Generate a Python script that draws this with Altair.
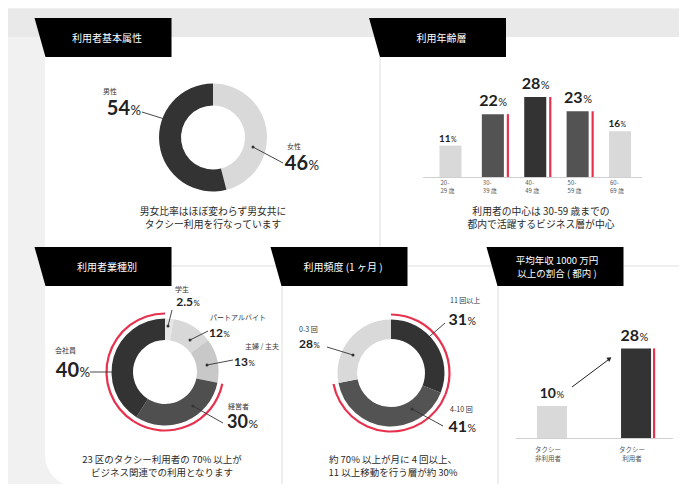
import altair as alt
import pandas as pd

# ---------------- data ----------------
gender_cats = ["女性", "男性"]
gender_vals = [46, 54]

age_cats = ["20-29", "30-39", "40-49", "50-59", "60-69"]
age_ticks = ["20-\n29 歳", "30-\n39 歳", "40-\n49 歳", "50-\n59 歳", "60-\n69 歳"]
age_vals = [11, 22, 28, 23, 16]
age_core = [False, True, True, True, False]

job_cats = ["学生", "パートアルバイト", "主婦 / 主夫", "経営者", "会社員"]
job_vals = [2.5, 12, 13, 30, 40]
job_business = [False, False, False, True, True]

freq_cats = ["11 回以上", "4-10 回", "0-3 回"]
freq_vals = [31, 41, 28]
freq_frequent = [True, True, False]

income_cats = ["タクシー非利用者", "タクシー利用者"]
income_ticks = ["タクシー\n非利用者", "タクシー\n利用者"]
income_vals = [10, 28]
income_user = [False, True]

tab_titles = ["利用者基本属性", "利用年齢層", "利用者業種別", "利用頻度 (1 ヶ月 )",
              "平均年収 1000 万円\n以上の割合 ( 都内 )"]
captions = [
    "男女比率はほぼ変わらず男女共に\nタクシー利用を行なっています",
    "利用者の中心は 30-59 歳までの\n都内で活躍するビジネス層が中心",
    "23 区のタクシー利用者の 70% 以上が\nビジネス関連での利用となります",
    "約 70% 以上が月に 4 回以上、\n11 以上移動を行う層が約 30%",
]

# ---------------- styles ----------------
DARK, MID, LIGHT, RED = "#333333", "#535353", "#d9d9d9", "#e6324f"
TXT = "#222222"
JP = "Noto Sans CJK JP"
NUM = "Lato"
gender_colors = [LIGHT, DARK]
age_colors = [LIGHT, MID, DARK, MID, LIGHT]
job_colors = ["#e6e6e6", "#d8d8d8", "#c8c8c8", "#4f4f4f", "#333333"]
freq_colors = [DARK, MID, LIGHT]
income_colors = [LIGHT, DARK]

W, H = 671, 476


def X(v):
    return v - 8


def Y(v):
    return v - 8


def fmt(v):
    return f"{v:g}"


one = pd.DataFrame({"k": [0]})

# ---------------- layout (page pixel positions) ----------------
tab_boxes = [(103, 37.5), (437.5, 37.5), (103, 266.5), (339, 266.5), (555, 266.5)]
caption_pos = [(213, 214.5), (541, 214.5), (162, 462.5), (393, 462.5)]

G_LAYOUT = {
    "男性": dict(lab=(103, 92), split=130, base=115, fs=20, line=(142, 112, 174, 122)),
    "女性": dict(lab=(287, 147), split=308, base=170, fs=20, line=(283, 163, 253, 147)),
}
J_LAYOUT = {
    "学生": dict(lab=(175, 290), split=193, base=306, fs=12, line=(172, 310, 168, 326)),
    "パートアルバイト": dict(lab=(210, 318), split=223, base=337, fs=12, line=(208, 331, 190, 340)),
    "主婦 / 主夫": dict(lab=(245, 347), split=248, base=366, fs=12, line=(233, 360, 207, 365)),
    "経営者": dict(lab=(228, 407), split=248, base=428, fs=18, line=(223, 423, 193, 406)),
    "会社員": dict(lab=(55, 351), split=79, base=377, fs=20, line=(90, 372, 124, 372)),
}
F_LAYOUT = {
    "11 回以上": dict(lab=(450, 301), split=467, base=325, fs=16, line=(445, 323, 422, 343)),
    "4-10 回": dict(lab=(450, 410), split=467, base=432, fs=16, line=(443, 426, 412, 409)),
    "0-3 回": dict(lab=(299, 330), split=313, base=348, fs=12, line=(327, 347, 353, 355)),
}

# ---------------- background ----------------
bg_layers = []
bg_layers.append(alt.Chart(one).mark_rect(color="#e9e9e9").encode(
    x=alt.value(X(8)), x2=alt.value(X(687)), y=alt.value(Y(9)), y2=alt.value(Y(37))))
bg_layers.append(alt.Chart(one).mark_rect(color="#ffffff", cornerRadiusBottomLeft=32).encode(
    x=alt.value(X(45)), x2=alt.value(X(687)), y=alt.value(Y(37)), y2=alt.value(Y(487))))
sep = pd.DataFrame({
    "x": [X(45), X(380), X(282), X(498)],
    "x2": [X(687), X(380), X(282), X(498)],
    "y": [Y(266), Y(57), Y(286), Y(286)],
    "y2": [Y(266), Y(266), Y(487), Y(487)],
})
bg_layers.append(alt.Chart(sep).mark_rule(color="#dedede", strokeWidth=1).encode(
    x=alt.X("x:Q", scale=None), x2="x2:Q", y=alt.Y("y:Q", scale=None), y2="y2:Q"))

# ---------------- tabs ----------------
tab_df = pd.DataFrame({
    "title": tab_titles,
    "x": [X(b[0]) for b in tab_boxes],
    "y": [Y(b[1]) for b in tab_boxes],
})
tab_shape = "M -68.5 -19.5 L 68.5 -19.5 L 68.5 19.5 L -57.5 19.5 Z"
tabs = alt.Chart(tab_df).mark_point(shape=tab_shape, size=4, filled=True, color="#000000",
                                    opacity=1, strokeWidth=0).encode(
    x=alt.X("x:Q", scale=None), y=alt.Y("y:Q", scale=None))
tab_single = alt.Chart(tab_df).transform_filter("indexof(datum.title, '\\n') < 0").mark_text(
    font=JP, fontSize=10, color="#ffffff", baseline="middle", dx=4, dy=1.5).encode(
    x=alt.X("x:Q", scale=None), y=alt.Y("y:Q", scale=None), text="title:N")
tab_double = alt.Chart(tab_df).transform_filter("indexof(datum.title, '\\n') >= 0").mark_text(
    font=JP, fontSize=9.5, color="#ffffff", baseline="alphabetic", lineBreak="\n", lineHeight=12.5,
    dx=2, dy=-2.5).encode(
    x=alt.X("x:Q", scale=None), y=alt.Y("y:Q", scale=None), text="title:N")

# ---------------- captions ----------------
cap_rows = []
for t, (cx, by) in zip(captions, caption_pos):
    cap_rows.append({"text": t, "x": X(cx), "y": Y(by)})
cap_df = pd.DataFrame(cap_rows)
cap_top = alt.Chart(cap_df.iloc[:2]).mark_text(
    font=JP, fontSize=9.8, color="#2a2a2a", align="center", baseline="alphabetic",
    lineBreak="\n", lineHeight=13.5).encode(
    x=alt.X("x:Q", scale=None), y=alt.Y("y:Q", scale=None), text="text:N")
cap_bot = alt.Chart(cap_df.iloc[2:]).mark_text(
    font=JP, fontSize=9.5, color="#2a2a2a", align="center", baseline="alphabetic",
    lineBreak="\n", lineHeight=13).encode(
    x=alt.X("x:Q", scale=None), y=alt.Y("y:Q", scale=None), text="text:N")


# ---------------- donuts ----------------
def donut(cats, vals, flags, colors, cx, cy, r_in, r_out, red=None):
    df = pd.DataFrame({"cat": cats, "val": vals, "idx": list(range(len(cats))), "flag": flags})
    base = alt.Chart(df).encode(
        theta=alt.Theta("val:Q", stack=True),
        order=alt.Order("idx:Q", sort="ascending"),
        x=alt.value(X(cx)), y=alt.value(Y(cy)))
    layers = []
    if red:
        layers.append(base.mark_arc(radius=red + 1.1, radius2=red - 1.1).encode(
            detail="cat:N",
            fill=alt.condition("datum.flag", alt.value(RED), alt.value("transparent"))))
    layers.append(base.mark_arc(radius=r_out, radius2=r_in).encode(
        color=alt.Color("cat:N", scale=alt.Scale(domain=cats, range=colors), legend=None)))
    return alt.layer(*layers)


d1 = donut(gender_cats, gender_vals, [False, False], gender_colors, 213, 137.5, 32, 54)
d3 = donut(job_cats, job_vals, job_business, job_colors, 165, 372, 32, 53.5, red=58.5)
d4 = donut(freq_cats, freq_vals, freq_frequent, freq_colors, 391, 373, 34, 53.5, red=58.5)

# ---------------- donut annotations ----------------
cat_rows, num_rows, line_rows = [], [], []
for cats, vals, lay in [(gender_cats, gender_vals, G_LAYOUT), (job_cats, job_vals, J_LAYOUT),
                        (freq_cats, freq_vals, F_LAYOUT)]:
    for c, v in zip(cats, vals):
        L = lay[c]
        cat_rows.append({"text": c, "x": X(L["lab"][0]), "y": Y(L["lab"][1])})
        num_rows.append({"text": fmt(v), "x": X(L["split"]), "y": Y(L["base"]),
                         "fs": L["fs"], "pfs": round(L["fs"] * 0.66, 1)})
        x1, y1, x2, y2 = L["line"]
        line_rows.append({"x": X(x1), "y": Y(y1), "x2": X(x2), "y2": Y(y2)})
cat_df = pd.DataFrame(cat_rows)
num_df = pd.DataFrame(num_rows)
line_df = pd.DataFrame(line_rows)

ann_cat = alt.Chart(cat_df).mark_text(font=JP, fontSize=7, color="#333333", align="left",
                                      baseline="middle").encode(
    x=alt.X("x:Q", scale=None), y=alt.Y("y:Q", scale=None), text="text:N")
ann_num = alt.Chart(num_df).mark_text(font=NUM, fontWeight="bold", color=TXT, align="right",
                                      baseline="alphabetic").encode(
    x=alt.X("x:Q", scale=None), y=alt.Y("y:Q", scale=None), text="text:N",
    size=alt.Size("fs:Q", scale=None))
ann_pct = alt.Chart(num_df).mark_text(font=NUM, color=TXT, align="left", baseline="alphabetic",
                                      dx=0.5).encode(
    x=alt.X("x:Q", scale=None), y=alt.Y("y:Q", scale=None), text=alt.value("%"),
    size=alt.Size("pfs:Q", scale=None))
ann_line = alt.Chart(line_df).mark_rule(color="#333333", strokeWidth=0.9).encode(
    x=alt.X("x:Q", scale=None), y=alt.Y("y:Q", scale=None), x2="x2:Q", y2="y2:Q")
ann_dot = alt.Chart(line_df).mark_circle(size=9, color="#333333", opacity=1).encode(
    x=alt.X("x2:Q", scale=None), y=alt.Y("y2:Q", scale=None))

# ---------------- age bars ----------------
age_df = pd.DataFrame({"cat": age_cats, "tick": age_ticks, "val": age_vals,
                       "flag": age_core, "num": [fmt(v) for v in age_vals]})
ax = alt.Scale(domain=age_cats, range=[X(429.3), X(641.2)], paddingInner=0.48, paddingOuter=0.24)
ay = alt.Scale(domain=[0, 30], range=[Y(177), Y(177 - 2.857 * 30)], nice=False, zero=True)
AX = alt.X("cat:N", scale=ax, axis=None, sort=age_cats)
AY = alt.Y("val:Q", scale=ay, axis=None)
age_base_rule = alt.Chart(one).mark_rule(color="#d0d0d0", strokeWidth=1).encode(
    x=alt.value(X(423)), x2=alt.value(X(642)), y=alt.value(Y(177.5)))
age_bars = alt.Chart(age_df).mark_bar().encode(
    x=AX, y=AY,
    color=alt.Color("cat:N", scale=alt.Scale(domain=age_cats, range=age_colors), legend=None))
age_red = alt.Chart(age_df).transform_filter("datum.flag").mark_rule(
    color=RED, strokeWidth=2.2, xOffset=15).encode(x=AX, y=AY, y2=alt.value(Y(177)))
age_big = alt.Chart(age_df).transform_filter("datum.flag").mark_text(
    font=NUM, fontWeight="bold", fontSize=16, color=TXT, align="right", baseline="alphabetic",
    dx=5, dy=-8).encode(x=AX, y=AY, text="num:N")
age_big_p = alt.Chart(age_df).transform_filter("datum.flag").mark_text(
    font=NUM, fontSize=11, color=TXT, align="left", baseline="alphabetic",
    dx=5.5, dy=-8).encode(x=AX, y=AY, text=alt.value("%"))
age_small = alt.Chart(age_df).transform_filter("!datum.flag").mark_text(
    font=NUM, fontWeight="bold", fontSize=10, color=TXT, align="right", baseline="alphabetic",
    dx=0, dy=-4).encode(x=AX, y=AY, text="num:N")
age_small_p = alt.Chart(age_df).transform_filter("!datum.flag").mark_text(
    font=NUM, fontSize=7, color=TXT, align="left", baseline="alphabetic",
    dx=0.5, dy=-4).encode(x=AX, y=AY, text=alt.value("%"))
age_tick = alt.Chart(age_df).mark_text(
    font=JP, fontSize=6, color="#555555", align="left", baseline="top", lineBreak="\n",
    lineHeight=8, dx=1).encode(
    x=alt.X("cat:N", scale=ax, axis=None, sort=age_cats, bandPosition=0),
    y=alt.value(Y(180)), text="tick:N")
age_panel = alt.layer(age_base_rule, age_bars, age_red, age_big, age_big_p, age_small,
                      age_small_p, age_tick)

# ---------------- income bars ----------------
inc_df = pd.DataFrame({"cat": income_cats, "tick": income_ticks, "val": income_vals,
                       "flag": income_user, "num": [fmt(v) for v in income_vals]})
ix = alt.Scale(domain=income_cats, range=[X(510), X(678)], paddingInner=0.643, paddingOuter=0.32)
iy = alt.Scale(domain=[0, 30], range=[Y(438), Y(438 - 96)], nice=False, zero=True)
IX = alt.X("cat:N", scale=ix, axis=None, sort=income_cats)
IY = alt.Y("val:Q", scale=iy, axis=None)
inc_base_rule = alt.Chart(one).mark_rule(color="#d0d0d0", strokeWidth=1).encode(
    x=alt.value(X(516)), x2=alt.value(X(673)), y=alt.value(Y(438.5)))
inc_bars = alt.Chart(inc_df).mark_bar().encode(
    x=IX, y=IY,
    color=alt.Color("cat:N", scale=alt.Scale(domain=income_cats, range=income_colors),
                    legend=None))
inc_red = alt.Chart(inc_df).transform_filter("datum.flag").mark_rule(
    color=RED, strokeWidth=2.2, xOffset=18).encode(x=IX, y=IY, y2=alt.value(Y(438)))
inc_num_u = alt.Chart(inc_df).transform_filter("datum.flag").mark_text(
    font=NUM, fontWeight="bold", fontSize=16, color=TXT, align="right", baseline="alphabetic",
    dx=3, dy=-7).encode(x=IX, y=IY, text="num:N")
inc_pct_u = alt.Chart(inc_df).transform_filter("datum.flag").mark_text(
    font=NUM, fontSize=11, color=TXT, align="left", baseline="alphabetic",
    dx=3.5, dy=-7).encode(x=IX, y=IY, text=alt.value("%"))
inc_num_n = alt.Chart(inc_df).transform_filter("!datum.flag").mark_text(
    font=NUM, fontWeight="bold", fontSize=14, color=TXT, align="right", baseline="alphabetic",
    dx=4, dy=-8).encode(x=IX, y=IY, text="num:N")
inc_pct_n = alt.Chart(inc_df).transform_filter("!datum.flag").mark_text(
    font=NUM, fontSize=9.5, color=TXT, align="left", baseline="alphabetic",
    dx=4.5, dy=-8).encode(x=IX, y=IY, text=alt.value("%"))
inc_tick = alt.Chart(inc_df).mark_text(
    font=JP, fontSize=6.5, color="#555555", align="center", baseline="top", lineBreak="\n",
    lineHeight=9, dx=-4).encode(x=IX, y=alt.value(Y(447)), text="tick:N")
arrow_line = alt.Chart(one).mark_rule(color="#222222", strokeWidth=1).encode(
    x=alt.value(X(572)), y=alt.value(Y(387)), x2=alt.value(X(608)), y2=alt.value(Y(360)))
arrow_head = alt.Chart(one).mark_point(shape="triangle", size=26, filled=True, color="#222222",
                                       opacity=1, angle=53).encode(
    x=alt.value(X(609)), y=alt.value(Y(359)))
inc_panel = alt.layer(inc_base_rule, inc_bars, inc_red, inc_num_u, inc_pct_u, inc_num_n,
                      inc_pct_n, inc_tick)

chart = alt.layer(
    *bg_layers, tabs, tab_single, tab_double, cap_top, cap_bot,
    d1, d3, d4, ann_line, ann_dot, ann_cat, ann_num, ann_pct,
    age_panel, inc_panel, arrow_line, arrow_head,
).resolve_scale(
    x="independent", y="independent", theta="independent", color="independent"
).properties(
    width=W, height=H, autosize=alt.AutoSizeParams(type="none"), padding=0
).configure_view(
    strokeWidth=0, fill="#f1f1f1"
)

chart.save("out.html", embed_options={"renderer": "svg", "actions": False})
